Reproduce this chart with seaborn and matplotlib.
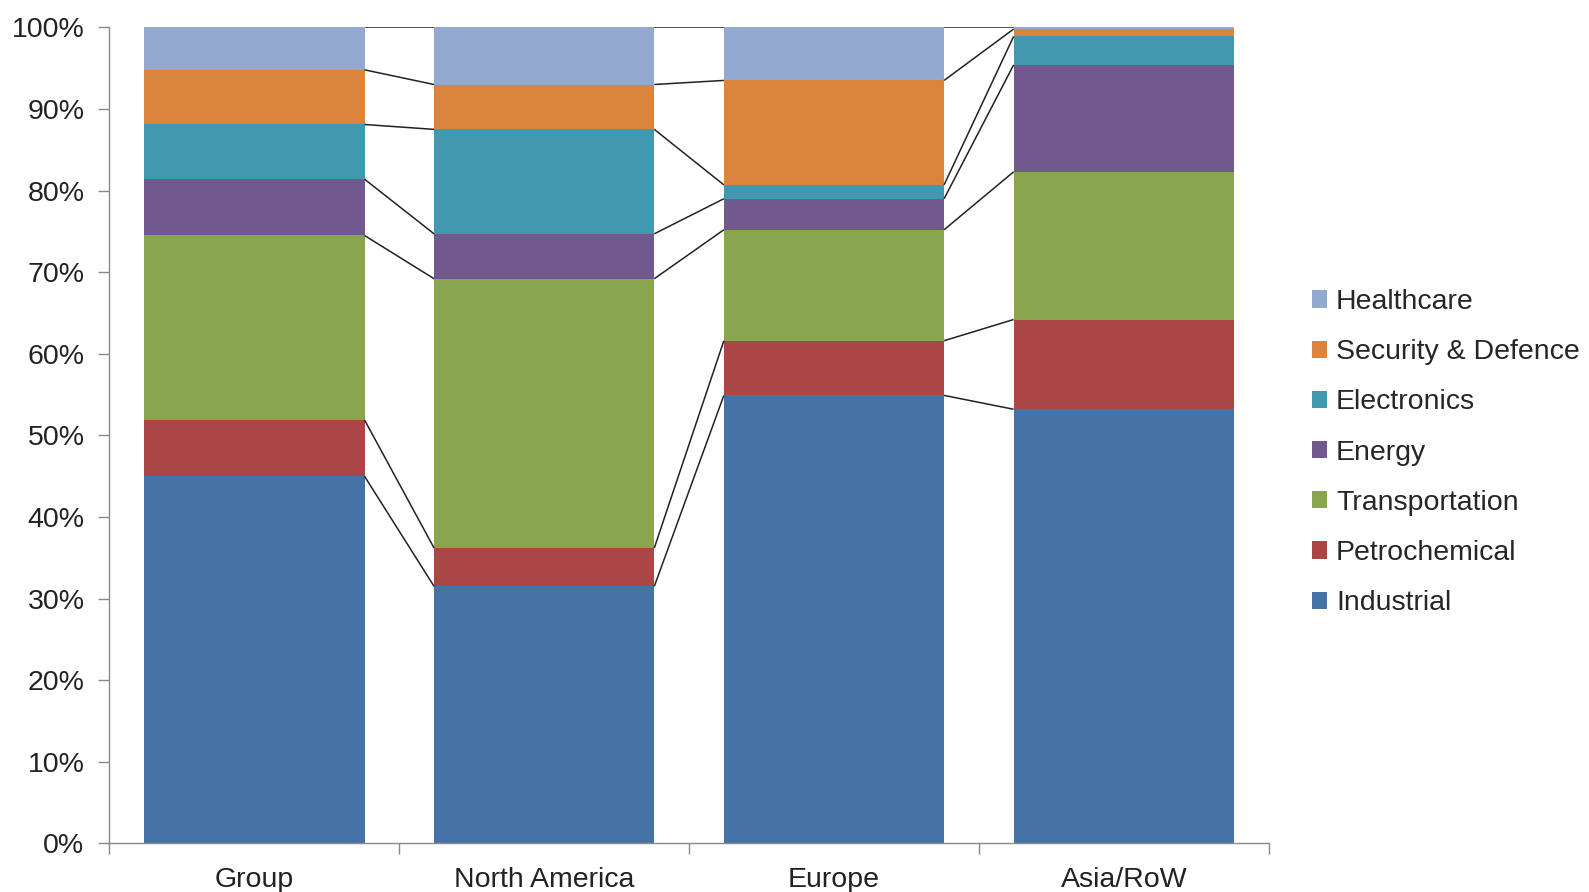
import numpy as np
import pandas as pd
import matplotlib
matplotlib.use("Agg")
import matplotlib.pyplot as plt
from matplotlib.ticker import PercentFormatter
import seaborn as sns

# Data (percent of sales by market)
regions = ["Group", "North America", "Europe", "Asia/RoW"]
industrial = [45.0, 31.5, 54.9, 53.2]
petrochemical = [6.9, 4.7, 6.7, 11.0]
transportation = [22.6, 33.0, 13.6, 18.1]
energy = [6.9, 5.5, 3.8, 13.1]
electronics = [6.7, 12.8, 1.7, 3.5]
security = [6.7, 5.5, 12.8, 0.9]
healthcare = [5.2, 7.0, 6.5, 0.2]

series_names = ["Industrial", "Petrochemical", "Transportation", "Energy",
                "Electronics", "Security & Defence", "Healthcare"]
series_values = [industrial, petrochemical, transportation, energy,
                 electronics, security, healthcare]
colors = ["#4572A7", "#AA4643", "#89A54E", "#71588F",
          "#4198AF", "#DB843D", "#93A9CF"]

df = pd.DataFrame(dict(zip(series_names, series_values)), index=regions)
cum = df.cumsum(axis=1)

sns.set_style("white")
plt.rcParams['font.family'] = ['Liberation Sans', 'DejaVu Sans']

fig = plt.figure(figsize=(15.89, 8.92), dpi=100)
ax = fig.add_axes([0.0689, 0.0545, 0.7295, 0.9148])

bar_w = 0.76
# draw cumulative totals from the top series down so each layer shows its band
for name, color in reversed(list(zip(series_names, colors))):
    sns.barplot(x=regions, y=cum[name].values, color=color, width=bar_w,
                saturation=1, ax=ax, label=name, zorder=2,
                linewidth=0, edgecolor="none")

# series lines joining the stacks
for name in series_names:
    vals = cum[name].values
    for i in range(len(regions) - 1):
        ax.plot([i + bar_w / 2, i + 1 - bar_w / 2], [vals[i], vals[i + 1]],
                color="#222222", lw=1.1, zorder=3, solid_capstyle="butt")

ax.set_xlim(-0.5, len(regions) - 0.5)
ax.set_ylim(0, 100)
ax.set_yticks(np.arange(0, 101, 10))
ax.yaxis.set_major_formatter(PercentFormatter(decimals=0))
ax.set_xticks(range(len(regions)))
ax.set_xticklabels(regions)
ax.set_xticks(np.arange(-0.5, len(regions), 1), minor=True)
ax.tick_params(axis="x", which="major", length=0, pad=17, labelsize=20.5, colors="#222222")
ax.tick_params(axis="x", which="minor", length=8, width=1, color="#888888", direction="out")
ax.tick_params(axis="y", length=8, width=1, color="#888888", direction="out",
               labelsize=20.5, colors="#222222", pad=10)
ax.xaxis.set_tick_params(bottom=True, which="both")
ax.yaxis.set_tick_params(left=True)

for side in ["top", "right"]:
    ax.spines[side].set_visible(False)
for side in ["left", "bottom"]:
    ax.spines[side].set_color("#888888")
    ax.spines[side].set_linewidth(1)
ax.set_xlabel("")
ax.set_ylabel("")
ax.grid(False)

handles, labels = ax.get_legend_handles_labels()
ax.legend(handles, labels, loc="center left", bbox_to_anchor=(0.8255, 0.4926),
          bbox_transform=fig.transFigure, frameon=False, fontsize=20.5,
          handlelength=0.55, handleheight=0.55, handletextpad=0.3,
          labelspacing=0.85, borderaxespad=0, borderpad=0)

fig.savefig("out.png", dpi=100)
